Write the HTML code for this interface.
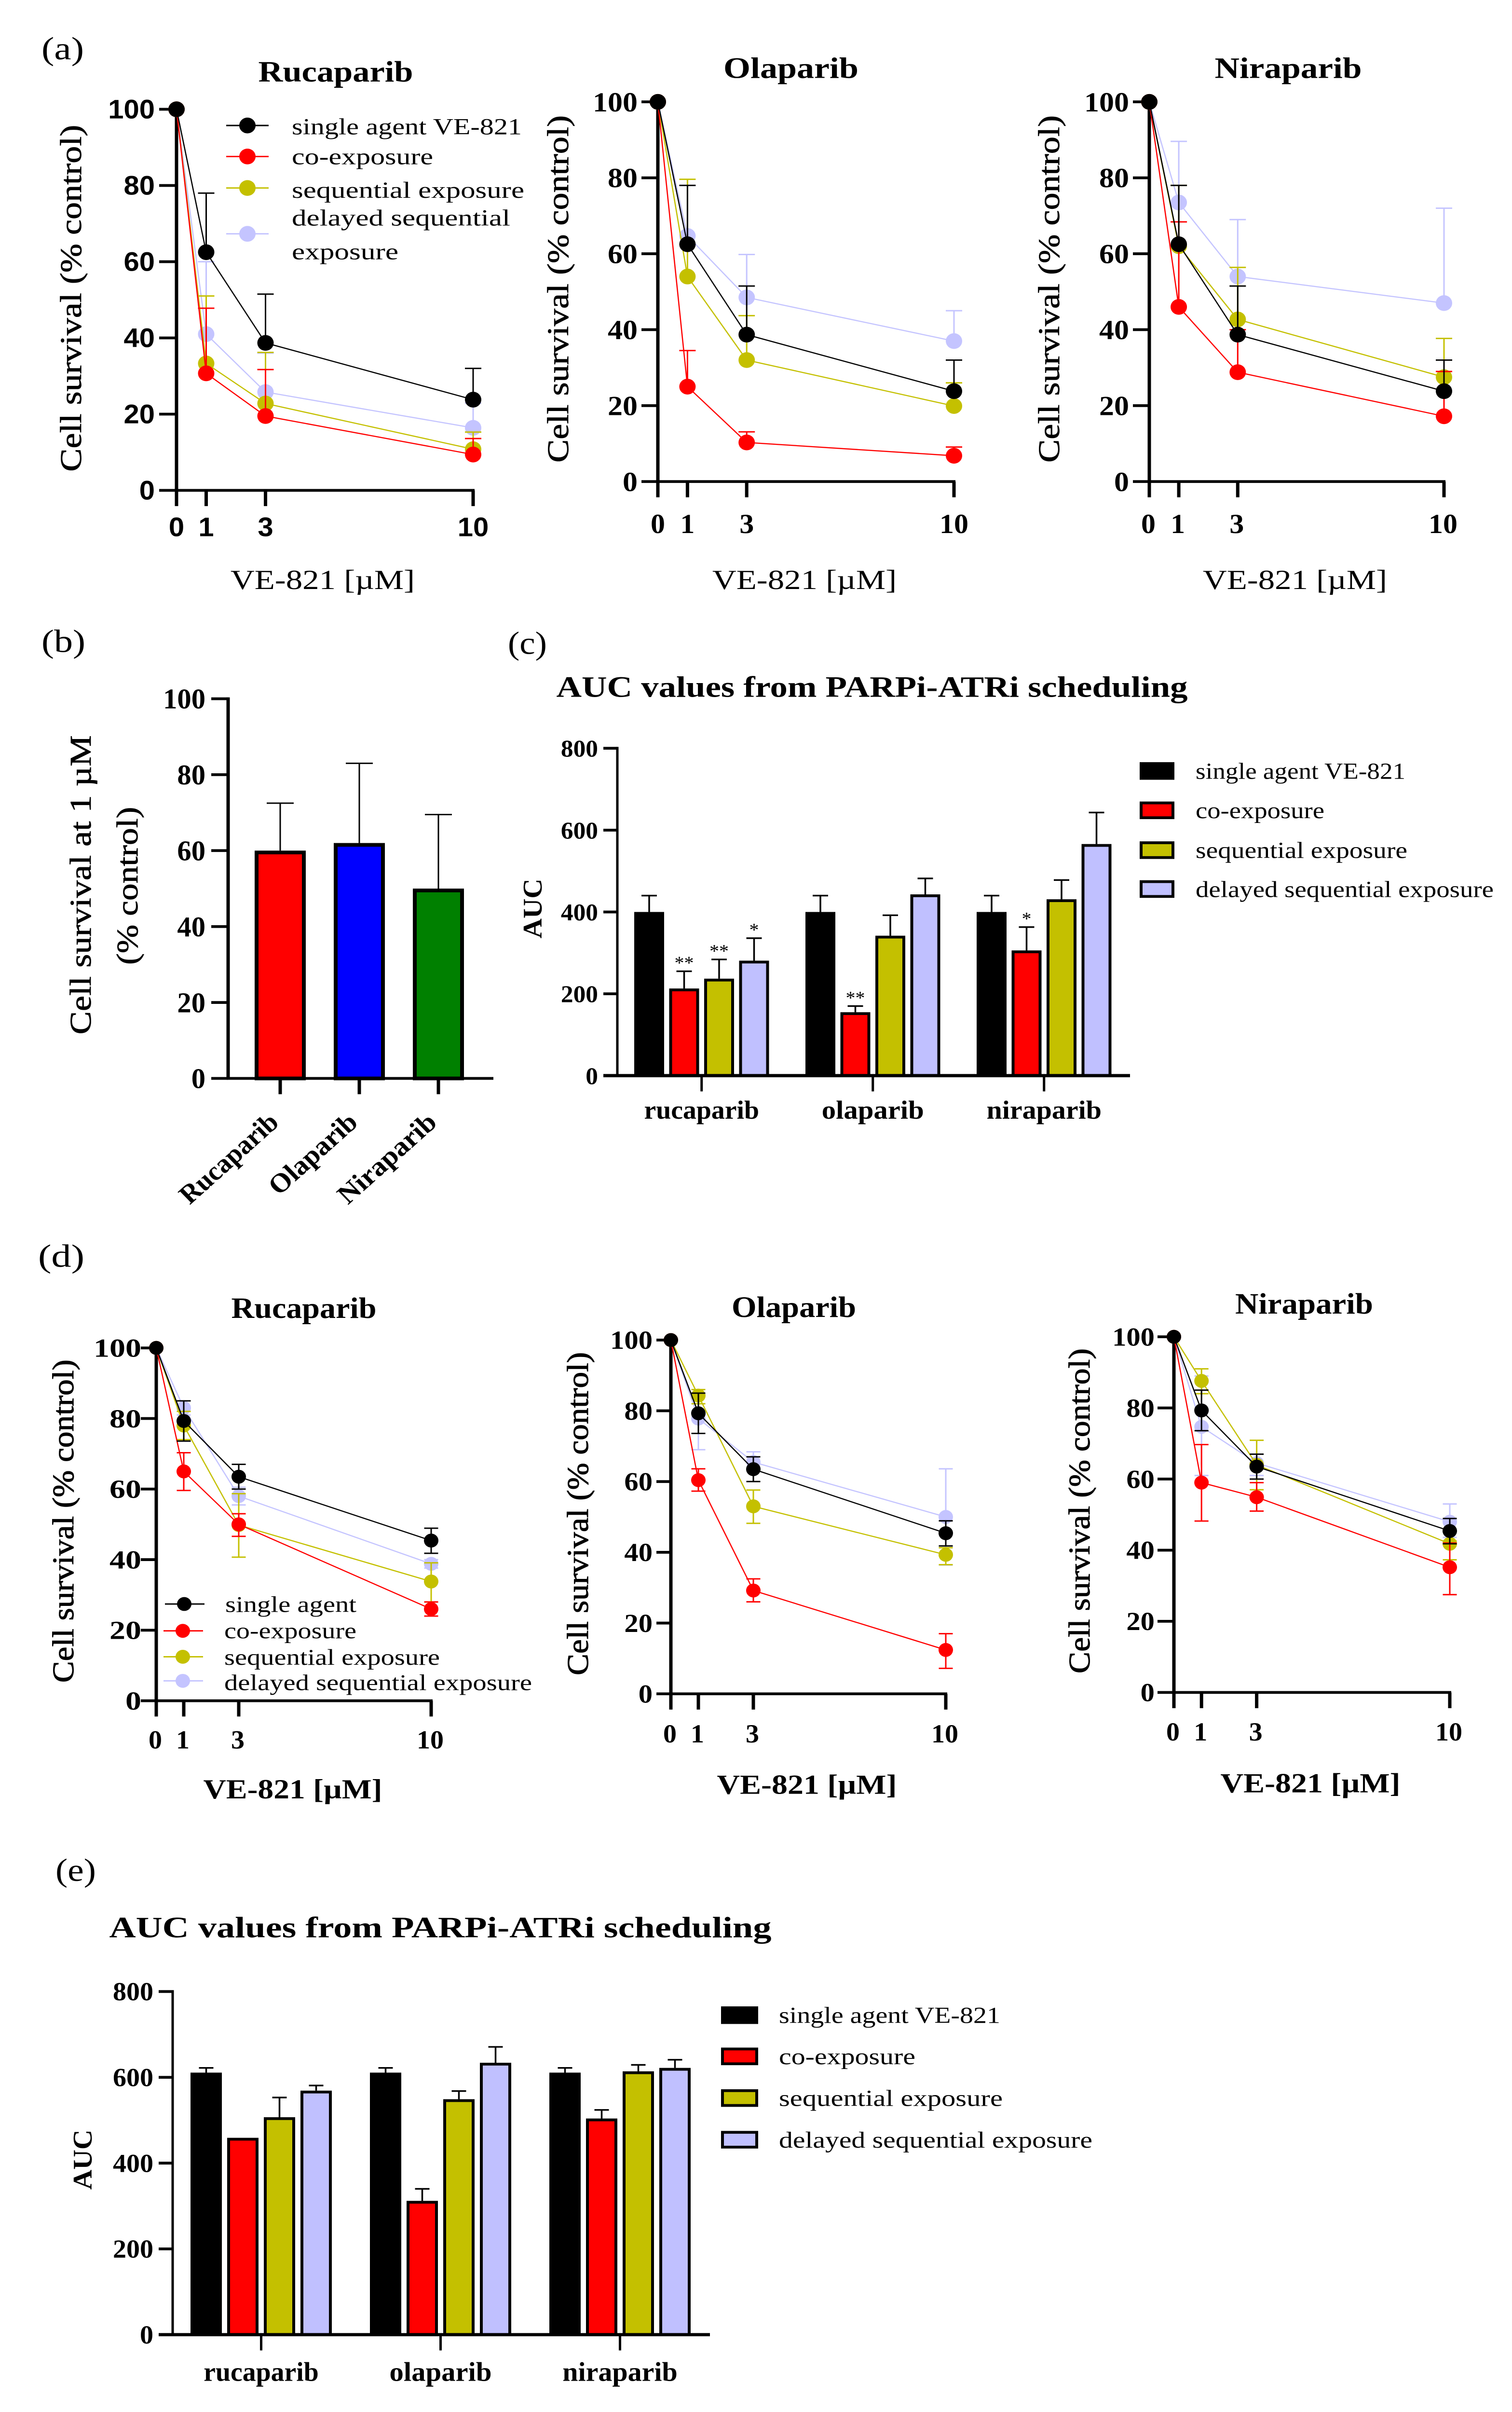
<!DOCTYPE html>
<html lang="en">
<head>
<meta charset="utf-8">
<title>PARPi-ATRi scheduling figure</title>
<style>
html,body{margin:0;padding:0;background:#fff;width:100%;height:100%;overflow:hidden}
svg{display:block;width:100vw;height:100vh}
text{font-family:"Liberation Serif","DejaVu Serif",serif;fill:#000}
.b{font-weight:bold}
.m{stroke:#000;stroke-width:.8}
.t{font-size:64px;font-weight:bold;text-anchor:middle}
.yt{font-size:62px;text-anchor:middle}
.xt{font-size:60px;text-anchor:middle}
.leg{font-size:50px}
.pl{font-size:70px}
</style>
</head>
<body>
<svg id="figure" xmlns="http://www.w3.org/2000/svg" width="3135" height="5209" viewBox="0 0 3135 5209" preserveAspectRatio="none">
<rect width="3135" height="5209" fill="#fff"/>

<text class="pl" x="86" y="128" textLength="88" lengthAdjust="spacingAndGlyphs">(a)</text>
<text class="pl" x="86" y="1408" textLength="91" lengthAdjust="spacingAndGlyphs">(b)</text>
<text class="pl" x="1053" y="1412" textLength="81" lengthAdjust="spacingAndGlyphs">(c)</text>
<text class="pl" x="79" y="2736" textLength="96" lengthAdjust="spacingAndGlyphs">(d)</text>
<text class="pl" x="115" y="4062" textLength="84" lengthAdjust="spacingAndGlyphs">(e)</text>

<g id="a-rucaparib">
  <text class="t" x="696" y="176" textLength="321" lengthAdjust="spacingAndGlyphs">Rucaparib</text>
  <text class="yt m" transform="translate(148,644) rotate(-90)" y="20" textLength="749" lengthAdjust="spacingAndGlyphs">Cell survival (% control)</text>
  <text class="xt" x="669" y="1272" textLength="382" lengthAdjust="spacingAndGlyphs">VE-821 [µM]</text>
</g>
<g id="a-olaparib">
  <text class="t" x="1640" y="168" textLength="280" lengthAdjust="spacingAndGlyphs">Olaparib</text>
  <text class="yt m" transform="translate(1158,624) rotate(-90)" y="20" textLength="750" lengthAdjust="spacingAndGlyphs">Cell survival (% control)</text>
  <text class="xt" x="1668" y="1272" textLength="382" lengthAdjust="spacingAndGlyphs">VE-821 [µM]</text>
</g>
<g id="a-niraparib">
  <text class="t" x="2671" y="168" textLength="305" lengthAdjust="spacingAndGlyphs">Niraparib</text>
  <text class="yt m" transform="translate(2176,624) rotate(-90)" y="20" textLength="750" lengthAdjust="spacingAndGlyphs">Cell survival (% control)</text>
  <text class="xt" x="2685" y="1272" textLength="382" lengthAdjust="spacingAndGlyphs">VE-821 [µM]</text>
</g>

<g id="b-chart">
  <text class="yt m" transform="translate(168,1911) rotate(-90)" y="20" textLength="646" lengthAdjust="spacingAndGlyphs">Cell survival at 1 µM</text>
  <text class="yt m" transform="translate(265,1913) rotate(-90)" y="20" textLength="341" lengthAdjust="spacingAndGlyphs">(% control)</text>
</g>

<g id="c-chart">
  <text class="t" x="1808" y="1505" textLength="1309" lengthAdjust="spacingAndGlyphs">AUC values from PARPi-ATRi scheduling</text>
  <text class="b" font-size="56" text-anchor="middle" transform="translate(1104,1962) rotate(-90)" y="19" textLength="129" lengthAdjust="spacingAndGlyphs">AUC</text>
</g>

<g id="d-rucaparib">
  <text class="t" x="630" y="2846" textLength="301" lengthAdjust="spacingAndGlyphs">Rucaparib</text>
  <text class="yt b" style="font-weight:normal;stroke:#000;stroke-width:1" transform="translate(132,3285) rotate(-90)" y="20" textLength="698" lengthAdjust="spacingAndGlyphs">Cell survival (% control)</text>
  <text class="xt b" x="607" y="3884" textLength="371" lengthAdjust="spacingAndGlyphs">VE-821 [µM]</text>
</g>
<g id="d-olaparib">
  <text class="t" x="1646" y="2844" textLength="258" lengthAdjust="spacingAndGlyphs">Olaparib</text>
  <text class="yt" style="stroke:#000;stroke-width:1" transform="translate(1199,3269) rotate(-90)" y="20" textLength="698" lengthAdjust="spacingAndGlyphs">Cell survival (% control)</text>
  <text class="xt b" x="1673" y="3874" textLength="373" lengthAdjust="spacingAndGlyphs">VE-821 [µM]</text>
</g>
<g id="d-niraparib">
  <text class="t" x="2704" y="2837" textLength="286" lengthAdjust="spacingAndGlyphs">Niraparib</text>
  <text class="yt" style="stroke:#000;stroke-width:1" transform="translate(2239,3263) rotate(-90)" y="20" textLength="702" lengthAdjust="spacingAndGlyphs">Cell survival (% control)</text>
  <text class="xt b" x="2717" y="3871" textLength="373" lengthAdjust="spacingAndGlyphs">VE-821 [µM]</text>
</g>

<g id="e-chart">
  <text class="t" x="913" y="4184" textLength="1373" lengthAdjust="spacingAndGlyphs">AUC values from PARPi-ATRi scheduling</text>
  <text class="b" font-size="56" text-anchor="middle" transform="translate(171,4664) rotate(-90)" y="19" textLength="130" lengthAdjust="spacingAndGlyphs">AUC</text>
</g>

<!-- legend panel a -->
<g>
  <g>
    <line x1="469" x2="557" y1="271" y2="271" stroke="#000" stroke-width="3"/><circle cx="513" cy="271" r="17" fill="#000"/>
    <text class="leg" x="605" y="290" textLength="477" lengthAdjust="spacingAndGlyphs">single agent VE-821</text>
  </g>
  <g>
    <line x1="469" x2="557" y1="338" y2="338" stroke="#f00" stroke-width="3"/><circle cx="513" cy="338" r="17" fill="#f00"/>
    <text class="leg" x="605" y="355" textLength="293" lengthAdjust="spacingAndGlyphs">co-exposure</text>
  </g>
  <g>
    <line x1="469" x2="557" y1="406" y2="406" stroke="#c4c000" stroke-width="3"/><circle cx="513" cy="406" r="17" fill="#c4c000"/>
    <text class="leg" x="605" y="427" textLength="482" lengthAdjust="spacingAndGlyphs">sequential exposure</text>
  </g>
  <g>
    <line x1="469" x2="557" y1="505" y2="505" stroke="#c4c4ff" stroke-width="3"/><circle cx="513" cy="505" r="17" fill="#c4c4ff"/>
    <text class="leg" x="605" y="487" textLength="453" lengthAdjust="spacingAndGlyphs">delayed sequential</text>
    <text class="leg" x="605" y="560" textLength="221" lengthAdjust="spacingAndGlyphs">exposure</text>
  </g>
</g>

<!-- legend panel c -->
<g>
  <g>
    <rect x="2366" y="1649" width="66" height="32" fill="#000" stroke="#000" stroke-width="6"/>
    <text class="leg" x="2479" y="1682" textLength="435" lengthAdjust="spacingAndGlyphs">single agent VE-821</text>
  </g>
  <g>
    <rect x="2366" y="1734" width="66" height="32" fill="#f00" stroke="#000" stroke-width="6"/>
    <text class="leg" x="2479" y="1767" textLength="267" lengthAdjust="spacingAndGlyphs">co-exposure</text>
  </g>
  <g>
    <rect x="2366" y="1820" width="66" height="32" fill="#c4c000" stroke="#000" stroke-width="6"/>
    <text class="leg" x="2479" y="1853" textLength="439" lengthAdjust="spacingAndGlyphs">sequential exposure</text>
  </g>
  <g>
    <rect x="2366" y="1904" width="66" height="32" fill="#c0c0ff" stroke="#000" stroke-width="6"/>
    <text class="leg" x="2479" y="1937" textLength="618" lengthAdjust="spacingAndGlyphs">delayed sequential exposure</text>
  </g>
</g>

<!-- legend panel d rucaparib -->
<g>
  <g>
    <line x1="342" x2="424" y1="3464" y2="3464" stroke="#000" stroke-width="3"/><circle cx="382" cy="3464" r="15" fill="#000"/>
    <text class="leg" x="467" y="3481" font-size="48" style="font-size:48px" textLength="272" lengthAdjust="spacingAndGlyphs">single agent</text>
  </g>
  <g>
    <line x1="339" x2="421" y1="3522" y2="3522" stroke="#f00" stroke-width="3"/><circle cx="379" cy="3522" r="15" fill="#f00"/>
    <text class="leg" x="465" y="3538" style="font-size:48px" textLength="274" lengthAdjust="spacingAndGlyphs">co-exposure</text>
  </g>
  <g>
    <line x1="339" x2="421" y1="3578" y2="3578" stroke="#c4c000" stroke-width="3"/><circle cx="379" cy="3578" r="15" fill="#c4c000"/>
    <text class="leg" x="465" y="3595" style="font-size:48px" textLength="447" lengthAdjust="spacingAndGlyphs">sequential exposure</text>
  </g>
  <g>
    <line x1="339" x2="421" y1="3630" y2="3630" stroke="#c4c4ff" stroke-width="3"/><circle cx="379" cy="3630" r="15" fill="#c4c4ff"/>
    <text class="leg" x="465" y="3650" style="font-size:48px" textLength="638" lengthAdjust="spacingAndGlyphs">delayed sequential exposure</text>
  </g>
</g>

<!-- legend panel e -->
<g>
  <g>
    <rect x="1498" y="4336" width="71" height="32" fill="#000" stroke="#000" stroke-width="6"/>
    <text class="leg" x="1615" y="4369" textLength="459" lengthAdjust="spacingAndGlyphs">single agent VE-821</text>
  </g>
  <g>
    <rect x="1498" y="4425" width="71" height="32" fill="#f00" stroke="#000" stroke-width="6"/>
    <text class="leg" x="1615" y="4458" textLength="283" lengthAdjust="spacingAndGlyphs">co-exposure</text>
  </g>
  <g>
    <rect x="1498" y="4515" width="71" height="32" fill="#c4c000" stroke="#000" stroke-width="6"/>
    <text class="leg" x="1615" y="4548" textLength="464" lengthAdjust="spacingAndGlyphs">sequential exposure</text>
  </g>
  <g>
    <rect x="1498" y="4605" width="71" height="32" fill="#c0c0ff" stroke="#000" stroke-width="6"/>
    <text class="leg" x="1615" y="4638" textLength="650" lengthAdjust="spacingAndGlyphs">delayed sequential exposure</text>
  </g>
</g>
</svg>

<script>
// ---------- shared categories and ticks ----------
const doses = [0, 1, 3, 10];
const percentTicks = [0, 20, 40, 60, 80, 100];
const aucTicks = [0, 200, 400, 600, 800];
const drugsLower = ['rucaparib', 'olaparib', 'niraparib'];
const drugsCapital = ['Rucaparib', 'Olaparib', 'Niraparib'];
const seriesKeys = ['single-agent', 'co-exposure', 'sequential', 'delayed-sequential'];
const seriesColors = ['#000000', '#ff0000', '#c4c000', '#c4c4ff'];

// ---------- panel (a) : mean and upper error limit, one row per series ----------
const aRucaparibMean = [[100, 62.5, 38.7, 23.8], [100, 30.7, 19.5, 9.4], [100, 33.3, 22.8, 10.8], [100, 41, 25.8, 16.4]];
const aRucaparibHigh = [[100, 78, 51.5, 32], [100, 47.8, 31.7, 13.6], [100, 51, 36.2, 15.3], [100, 60, 36, 22.9]];
const aOlaparibMean = [[100, 62.5, 38.7, 23.8], [100, 25, 10.3, 6.8], [100, 54, 32, 19.9], [100, 64.7, 48.5, 37]];
const aOlaparibHigh = [[100, 78, 51.5, 32], [100, 34.5, 13.1, 9.1], [100, 79.6, 43.7, 26], [100, 78, 59.8, 45]];
const aNiraparibMean = [[100, 62.5, 38.7, 23.8], [100, 46, 28.8, 17.2], [100, 62, 42.7, 27.5], [100, 73.5, 54, 47]];
const aNiraparibHigh = [[100, 78, 51.5, 32], [100, 68.4, 40, 29], [100, 78, 56.4, 37.7], [100, 89.6, 69, 72]];

// ---------- panel (b) ----------
const bValues = [60, 62, 50];
const bHigh = [72.5, 83, 69.5];
const bColors = ['#ff0000', '#0000ff', '#008000'];

// ---------- panel (c) : one row per drug, one column per series ----------
const cValues = [[400, 213, 237, 281], [400, 155, 342, 443], [400, 306, 431, 566]];
const cHigh = [[440, 255, 284, 336], [440, 170, 392, 482], [440, 363, 478, 643]];
const cStars = [['', '**', '**', '*'], ['', '**', '', ''], ['', '*', '', '']];

// ---------- panel (d) : mean, upper and lower error limit ----------
const dRucaparibMean = [[100, 79.3, 63.5, 45.4], [100, 65, 50, 26], [100, 78, 49.8, 33.8], [100, 83, 58, 38.8]];
const dRucaparibHigh = [[100, 85, 67, 48.9], [100, 70.3, 53, 28], [100, 82, 58.7, 39.1], [100, 85, 60.5, 40]];
const dRucaparibLow = [[100, 73.6, 60, 41.8], [100, 59.6, 46.6, 24], [100, 74, 40.7, 28], [100, 81, 55.5, 37.6]];
const dOlaparibMean = [[100, 79.3, 63.5, 45.4], [100, 60.4, 29.2, 12.4], [100, 84.3, 53, 39.3], [100, 77.8, 65.5, 50]];
const dOlaparibHigh = [[100, 85, 67, 48.9], [100, 63.6, 32.5, 17], [100, 86, 57.6, 41.3], [100, 86, 68.4, 63.6]];
const dOlaparibLow = [[100, 73.6, 60, 41.8], [100, 57.3, 26, 7.2], [100, 82, 48.2, 36.5], [100, 69, 63.8, 36.4]];
const dNiraparibMean = [[100, 79.3, 63.5, 45.4], [100, 59, 54.9, 35.2], [100, 87.6, 64, 41.8], [100, 74.7, 64.5, 48]];
const dNiraparibHigh = [[100, 85, 67, 48.9], [100, 69.7, 59, 42], [100, 91, 70.9, 42.6], [100, 89, 67, 53]];
const dNiraparibLow = [[100, 73.6, 60, 41.8], [100, 48.2, 51, 27.5], [100, 84, 57, 37.3], [100, 61, 61, 43.6]];

// ---------- panel (e) ----------
const eValues = [[611, 459, 507, 569], [611, 312, 549, 634], [611, 504, 614, 622]];
const eHigh = [[622, 459, 553, 581], [622, 340, 568, 671], [622, 524, 629, 641]];

// ---------- drawing ----------
const NS = 'http://www.w3.org/2000/svg';

function make(parent, tag, attrs, name, content) {
  const el = document.createElementNS(NS, tag);
  for (const k in attrs) el.setAttribute(k, attrs[k]);
  
  
  if (content !== undefined) el.textContent = content;
  parent.appendChild(el);
  return el;
}

function seg(parent, x1, y1, x2, y2, color, w, name) {
  return make(parent, 'line', { x1: x1, y1: y1, x2: x2, y2: y2, stroke: color, 'stroke-width': w }, name);
}

function tickLabel(parent, x, y, label, opt, anchor, name) {
  const attrs = { x: x, y: y, 'font-size': opt.size, 'text-anchor': anchor, 'font-weight': 'bold' };
  if (opt.sans) attrs.style = 'font-family:"Liberation Sans",sans-serif';
  if (opt.charW) {
    attrs.textLength = String(label).length * opt.charW;
    attrs.lengthAdjust = 'spacingAndGlyphs';
  }
  return make(parent, 'text', attrs, name, label);
}

function drawLines(L) {
  const root = document.getElementById(L.id);
  const xs = function (d) { return L.x0 + d * (L.x10 - L.x0) / 10; };
  const ys = function (v) { return L.y0 - v * (L.y0 - L.y100) / 100; };

  percentTicks.forEach(function (t) {
    seg(root, L.tickLeft, ys(t), L.x0, ys(t), '#000', 6, 'y-tick-' + t);
    tickLabel(root, L.labelRight, ys(t) + L.size * 0.34, t, { size: L.size, sans: L.sans, charW: L.charW }, 'end', 'y-tick-label-' + t);
  });
  doses.forEach(function (d) {
    seg(root, xs(d), L.y0, xs(d), L.y0 + 34, '#000', 7, 'x-tick-' + d);
    tickLabel(root, xs(d) + L.labelDx, L.xLabelY, d, { size: L.size, sans: L.sans }, 'middle', 'x-tick-label-' + d);
  });
  seg(root, L.x0, L.y100 - 3, L.x0, L.y0 + 3, '#000', 7, 'y-axis-line');
  seg(root, L.x0 - 3, L.y0, L.x10 + 3, L.y0, '#000', 6, 'x-axis-line');

  [3, 2, 1, 0].forEach(function (s) {
    const color = seriesColors[s];
    const g = make(root, 'g', {}, 'series-' + seriesKeys[s]);
    L.mean[s].forEach(function (m, i) {
      const x = xs(doses[i]);
      const hi = L.high[s][i];
      const lo = L.low ? L.low[s][i] : m;
      if (hi !== m) {
        seg(g, x, ys(m), x, ys(hi), color, 3, 'error-bar-upper');
        seg(g, x - L.cap, ys(hi), x + L.cap, ys(hi), color, 3, 'error-cap-upper');
      }
      if (lo !== m) {
        seg(g, x, ys(m), x, ys(lo), color, 3, 'error-bar-lower');
        seg(g, x - L.cap, ys(lo), x + L.cap, ys(lo), color, 3, 'error-cap-lower');
      }
    });
    const pts = L.mean[s].map(function (m, i) { return xs(doses[i]) + ',' + ys(m); }).join(' ');
    make(g, 'polyline', { points: pts, fill: 'none', stroke: color, 'stroke-width': 2.5 }, 'series-line');
    L.mean[s].forEach(function (m, i) {
      make(g, 'circle', { cx: xs(doses[i]), cy: ys(m), r: L.r, fill: color }, 'data-point-dose-' + doses[i]);
    });
  });
}

function drawGroupedBars(L) {
  const root = document.getElementById(L.id);
  const ys = function (v) { return L.y0 - v * (L.y0 - L.yTop) / 800; };
  const xs = function (g, s) { return L.barStart + g * L.groupStep + s * L.barStep; };

  aucTicks.forEach(function (t) {
    seg(root, L.tickLeft, ys(t), L.axisX, ys(t), '#000', 6, 'y-tick-' + t);
    tickLabel(root, L.labelRight, ys(t) + L.size * 0.34, t, { size: L.size, charW: L.charW }, 'end', 'y-tick-label-' + t);
  });
  seg(root, L.axisX, ys(800) - 3, L.axisX, L.y0, '#000', 5, 'y-axis-line');

  L.values.forEach(function (row, g) {
    const tx = xs(g, 0) + (3 * L.barStep + L.barW) / 2;
    seg(root, tx, L.y0, tx, L.y0 + 34, '#000', 5, 'x-tick-' + drugsLower[g]);
    tickLabel(root, tx, L.catY, drugsLower[g], { size: L.catSize, charW: 26.5 }, 'middle', 'x-tick-label-' + drugsLower[g]);
    row.forEach(function (v, s) {
      const x = xs(g, s);
      const c = x + L.barW / 2;
      const hi = L.high[g][s];
      const name = 'bar-' + drugsLower[g] + '-' + seriesKeys[s];
      if (hi !== v) {
        seg(root, c, ys(v), c, ys(hi), '#000', 3.5, 'error-bar-' + drugsLower[g] + '-' + seriesKeys[s]);
        seg(root, c - L.cap, ys(hi), c + L.cap, ys(hi), '#000', 3.5, 'error-cap-' + drugsLower[g] + '-' + seriesKeys[s]);
      }
      const fill = s === 3 ? '#c0c0ff' : seriesColors[s];
      make(root, 'rect', {
        x: x + 3, y: ys(v) + 3, width: L.barW - 6, height: L.y0 - ys(v) - 3,
        fill: fill, stroke: '#000', 'stroke-width': 6
      }, name);
      if (L.stars && L.stars[g][s]) {
        make(root, 'text', { x: c, y: ys(hi) - 5, 'font-size': 40, 'text-anchor': 'middle' }, 'significance-' + drugsLower[g] + '-' + seriesKeys[s], L.stars[g][s]);
      }
    });
  });
  seg(root, L.axisLeft, L.y0, L.axisRight, L.y0, '#000', 7, 'x-axis-line');
}

function drawPanelB() {
  const root = document.getElementById('b-chart');
  const axisX = 473, y0 = 2329, y100 = 1509;
  const ys = function (v) { return y0 - v * (y0 - y100) / 100; };
  const xs = function (i) { return 581 + i * 164; };
  percentTicks.forEach(function (t) {
    seg(root, 438, ys(t), axisX, ys(t), '#000', 6, 'y-tick-' + t);
    tickLabel(root, 426, ys(t) + 21, t, { size: 62, charW: 29.3 }, 'end', 'y-tick-label-' + t);
  });
  seg(root, axisX, y100 - 3, axisX, y0, '#000', 7, 'y-axis-line');
  bValues.forEach(function (v, i) {
    const c = xs(i);
    seg(root, c, ys(v), c, ys(bHigh[i]), '#000', 3, 'error-bar-' + drugsLower[i]);
    seg(root, c - 28, ys(bHigh[i]), c + 28, ys(bHigh[i]), '#000', 3, 'error-cap-' + drugsLower[i]);
    make(root, 'rect', {
      x: c - 49, y: ys(v) + 4, width: 98, height: y0 - ys(v) - 4,
      fill: bColors[i], stroke: '#000', 'stroke-width': 8
    }, 'bar-' + drugsLower[i]);
    seg(root, c, y0, c, y0 + 34, '#000', 7, 'x-tick-' + drugsLower[i]);
    const label = make(root, 'text', {
      transform: 'translate(' + c + ',2428) rotate(-43)', 'font-size': 58, 'font-weight': 'bold', 'text-anchor': 'end',
      textLength: drugsCapital[i].length * 28.5, lengthAdjust: 'spacingAndGlyphs'
    }, 'x-tick-label-' + drugsLower[i], drugsCapital[i]);
    label.setAttribute('dominant-baseline', 'auto');
  });
  seg(root, axisX - 3, y0, 1023, y0, '#000', 6, 'x-axis-line');
}

drawLines({ id: 'a-rucaparib', mean: aRucaparibMean, high: aRucaparibHigh, x0: 366, x10: 981, y0: 1059, y100: 236, tickLeft: 330, labelRight: 321, labelDx: 0, xLabelY: 1158, size: 58, sans: true, r: 17, cap: 17 });
drawLines({ id: 'a-olaparib', mean: aOlaparibMean, high: aOlaparibHigh, x0: 1364, x10: 1978, y0: 1040, y100: 220, tickLeft: 1330, labelRight: 1322, labelDx: 0, xLabelY: 1151, size: 60, charW: 31, r: 17, cap: 17 });
drawLines({ id: 'a-niraparib', mean: aNiraparibMean, high: aNiraparibHigh, x0: 2383, x10: 2994, y0: 1040, y100: 220, tickLeft: 2349, labelRight: 2341, labelDx: -2, xLabelY: 1151, size: 60, charW: 31, r: 17, cap: 17 });
drawPanelB();
drawGroupedBars({ id: 'c-chart', values: cValues, high: cHigh, stars: cStars, y0: 2323, yTop: 1616, axisX: 1280, tickLeft: 1251, labelRight: 1240, axisLeft: 1251, axisRight: 2343, barStart: 1315, groupStep: 355, barStep: 72.5, barW: 62, cap: 16, size: 52, charW: 25.7, catSize: 56, catY: 2416 });
drawLines({ id: 'd-rucaparib', mean: dRucaparibMean, high: dRucaparibHigh, low: dRucaparibLow, x0: 324, x10: 894, y0: 3673, y100: 2911, tickLeft: 292, labelRight: 293, labelDx: -2, xLabelY: 3776, size: 56, charW: 33, r: 15, cap: 14.5 });
drawLines({ id: 'd-olaparib', mean: dOlaparibMean, high: dOlaparibHigh, low: dOlaparibLow, x0: 1391, x10: 1961, y0: 3658, y100: 2894, tickLeft: 1361, labelRight: 1353, labelDx: -2, xLabelY: 3763, size: 56, charW: 29.3, r: 15, cap: 14.5 });
drawLines({ id: 'd-niraparib', mean: dNiraparibMean, high: dNiraparibHigh, low: dNiraparibLow, x0: 2434, x10: 3006, y0: 3655, y100: 2887, tickLeft: 2400, labelRight: 2394, labelDx: -2, xLabelY: 3759, size: 56, charW: 29.3, r: 15, cap: 14.5 });
drawGroupedBars({ id: 'e-chart', values: eValues, high: eHigh, y0: 5042, yTop: 4301, axisX: 358, tickLeft: 329, labelRight: 318, axisLeft: 329, axisRight: 1472, barStart: 395, groupStep: 372, barStep: 76, barW: 65, cap: 15, size: 56, charW: 28, catSize: 58, catY: 5142 });
</script>
</body>
</html>
